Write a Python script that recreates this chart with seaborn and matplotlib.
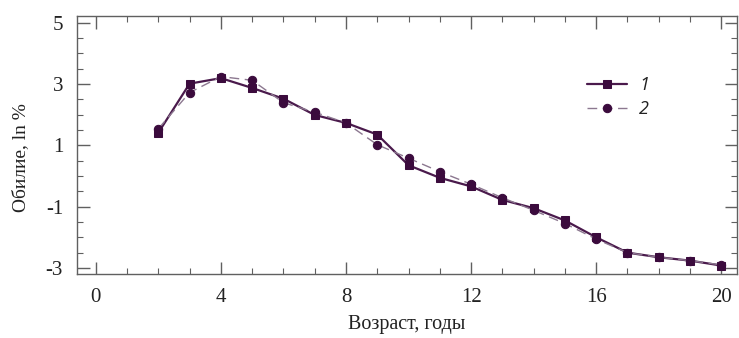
import matplotlib
matplotlib.use("Agg")
import matplotlib.pyplot as plt
import seaborn as sns
import pandas as pd
from matplotlib.ticker import MultipleLocator

age = [2, 3, 4, 5, 6, 7, 8, 9, 10, 11, 12, 13, 14, 15, 16, 17, 18, 19, 20]
series1 = [1.41, 3.01, 3.19, 2.87, 2.52, 1.99, 1.73, 1.35, 0.35, -0.06, -0.34, -0.78, -1.05, -1.45, -2.00, -2.50, -2.65, -2.76, -2.92]
series2 = [1.54, 2.72, 3.24, 3.12, 2.39, 2.08, 1.73, 1.02, 0.58, 0.14, -0.27, -0.71, -1.12, -1.55, -2.06, -2.50, -2.65, -2.76, -2.90]
labels = ["1", "2"]
x_ticks = [0, 4, 8, 12, 16, 20]
y_ticks = [-3, -1, 1, 3, 5]

sns.set_theme(style="ticks")
plt.rcParams["font.family"] = ["Liberation Serif", "DejaVu Serif"]
plt.rcParams["axes.unicode_minus"] = False

fig = plt.figure(figsize=(7.39, 3.38), dpi=100)
ax = fig.add_axes([0.1042, 0.189, 0.893, 0.764])

df1 = pd.DataFrame({"age": age, "val": series1})
df2 = pd.DataFrame({"age": age, "val": series2})

mk = "#3b0b3d"
sns.lineplot(data=df1, x="age", y="val", ax=ax, color="#4a1a4c", lw=1.6,
             marker="s", markersize=6, markerfacecolor=mk, markeredgecolor=mk,
             label=labels[0])
sns.lineplot(data=df2, x="age", y="val", ax=ax, color="#8c7890", lw=1.0,
             linestyle=(0, (7, 4)), marker="o", markersize=6,
             markerfacecolor=mk, markeredgecolor=mk, label=labels[1])

ax.set_xlim(-0.6, 20.5)
ax.set_ylim(-3.2, 5.22)
ax.set_xticks(x_ticks)
ax.set_yticks(y_ticks)
ax.xaxis.set_minor_locator(MultipleLocator(1))
ax.yaxis.set_minor_locator(MultipleLocator(0.5))
ax.tick_params(which="both", direction="in", top=True, right=True,
               color="#606060", labelsize=15, labelcolor="#222222")
ax.tick_params(which="major", length=9, width=1.0)
ax.tick_params(axis="x", which="major", pad=10)
ax.tick_params(axis="y", which="major", pad=10)
ax.tick_params(which="minor", length=4, width=0.8)
for s in ax.spines.values():
    s.set_color("#606060")
    s.set_linewidth(1.0)

ax.set_xlabel("Возраст, годы", fontsize=14.5, color="#222222", labelpad=6)
ax.set_ylabel("Обилие, ln %", fontsize=14, color="#222222")
ax.yaxis.set_label_coords(-0.072, 0.45)

leg = ax.legend(loc="upper left", bbox_to_anchor=(0.748, 0.83), frameon=False,
                handlelength=2.2, handletextpad=0.7, labelspacing=0.35,
                prop={"family": "Open Sans", "style": "italic", "size": 13})
for t in leg.get_texts():
    t.set_color("#222222")

fig.savefig("out.png", dpi=100)
